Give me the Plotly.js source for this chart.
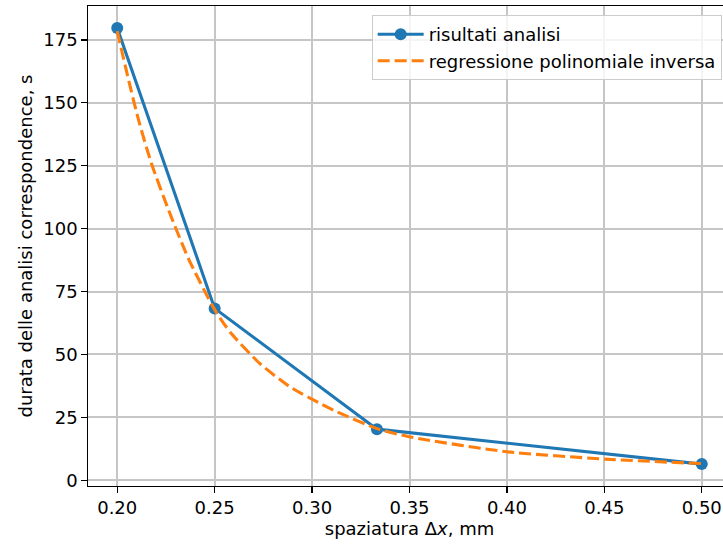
<!DOCTYPE html>
<html>
<head>
<meta charset="utf-8">
<script src="https://cdn.plot.ly/plotly-3.0.1.min.js"></script>
<style>
html, body { margin: 0; padding: 0; overflow: hidden; background: #fff; }
#chart { width: 740px; height: 544px; }
</style>
</head>
<body>
<div id="chart"></div>
<script>
// measured results
const spacing = [0.2, 0.25, 0.3333, 0.5];
const duration = [179.8, 68.3, 20.3, 6.4];

// inverse polynomial regression curve
const fitX = [0.2, 0.2054, 0.2109, 0.2173, 0.2263, 0.2366, 0.25, 0.258, 0.2733, 0.2887, 0.3041, 0.3127, 0.3333, 0.3503, 0.40, 0.4503, 0.5];
const fitY = [178.5, 160.5, 143.3, 126.5, 107.5, 88.0, 67.8, 58.8, 46.3, 37.1, 30.5, 27.2, 20.5, 17.2, 11.3, 8.4, 6.6];

const seriesNames = ['risultati analisi', 'regressione polinomiale inversa'];
const xTicks = [0.20, 0.25, 0.30, 0.35, 0.40, 0.45, 0.50];
const yTicks = [0, 25, 50, 75, 100, 125, 150, 175];

const FONT = 'DejaVu Sans, Liberation Sans, sans-serif';
const FS = 18;

const traces = [
  {
    x: spacing, y: duration, name: seriesNames[0],
    mode: 'lines+markers', type: 'scatter',
    line: { color: '#1f77b4', width: 3.1 },
    marker: { color: '#1f77b4', size: 12 }
  },
  {
    x: fitX, y: fitY, name: seriesNames[1],
    mode: 'lines', type: 'scatter',
    line: { color: '#ff7f0e', width: 3.1, dash: '12px,5px', shape: 'spline', smoothing: 0.6 }
  }
];

const axisCommon = {
  showline: true, linecolor: '#000', linewidth: 1.25, mirror: true,
  showgrid: true, gridcolor: '#c6c6c6', gridwidth: 2,
  zeroline: false,
  ticks: 'outside', ticklen: 5.5, tickwidth: 1.25, tickcolor: '#000',
  tickfont: { family: FONT, size: FS, color: '#000' },
  automargin: false
};

const layout = {
  width: 740, height: 544,
  margin: { l: 88, r: 9, t: 6, b: 58 },
  paper_bgcolor: '#fff', plot_bgcolor: '#fff',
  font: { family: FONT, size: FS, color: '#000' },
  showlegend: true,
  legend: {
    x: 0.9855, xanchor: 'right', y: 0.981, yanchor: 'top',
    bgcolor: 'rgba(255,255,255,0.8)', bordercolor: '#cccccc', borderwidth: 1,
    font: { family: FONT, size: FS, color: '#000' },
    itemwidth: 46,
    tracegroupgap: 0
  },
  xaxis: Object.assign({}, axisCommon, {
    range: [0.185, 0.515],
    tickvals: xTicks,
    ticktext: xTicks.map(v => v.toFixed(2)),
    title: { text: 'spaziatura Δ<i>x</i>, mm', font: { family: FONT, size: FS, color: '#000' }, standoff: 4 }
  }),
  yaxis: Object.assign({}, axisCommon, {
    range: [-2.3, 188.5],
    tickvals: yTicks,
    ticktext: yTicks.map(String),
    title: { text: 'durata delle analisi correspondence, s', font: { family: FONT, size: FS, color: '#000' }, standoff: 6 }
  })
};

Plotly.newPlot('chart', traces, layout, { displayModeBar: false, staticPlot: true });
</script>
</body>
</html>
